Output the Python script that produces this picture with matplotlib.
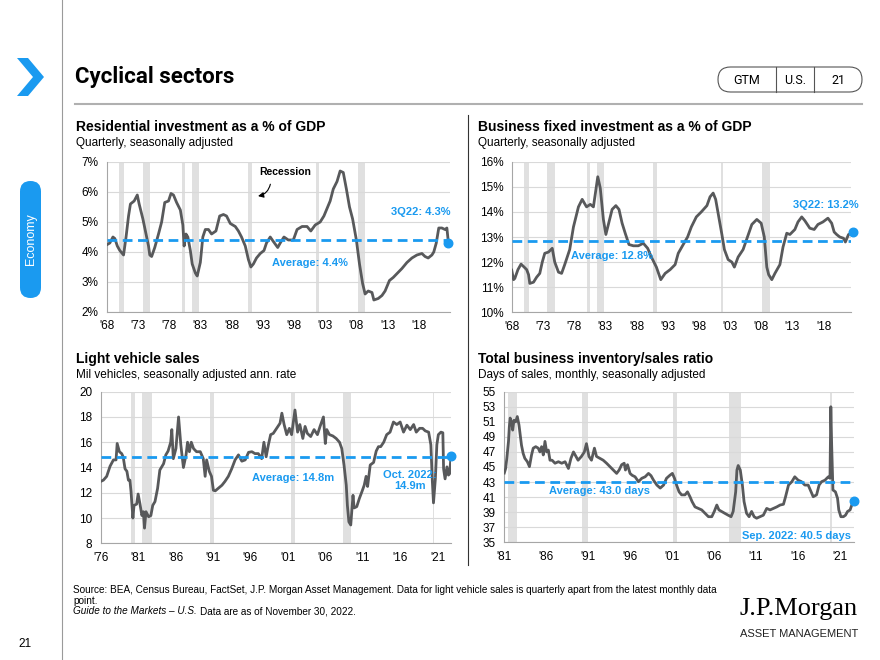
import matplotlib
matplotlib.use("Agg")
import matplotlib.pyplot as plt
from matplotlib.patches import FancyBboxPatch, Polygon

plt.rcParams['font.family'] = ['Liberation Sans', 'DejaVu Sans']

BLUE = '#1a9af0'
LINE = '#58595b'
REC = '#e0e0e0'
GRID = '#d9d9d9'
SPINE = '#a6a6a6'

# ---- Residential investment as a % of GDP (quarterly)
res_years = [1968.0, 1968.5, 1969.0, 1969.3, 1969.7, 1970.1, 1970.5, 1970.7, 1971.1, 1971.5,
             1971.8, 1972.4, 1972.9, 1973.2, 1973.8, 1974.3, 1974.7, 1974.9, 1975.2, 1975.7,
             1976.3, 1976.8, 1977.3, 1977.9, 1978.3, 1978.7, 1979.2, 1979.8, 1980.2, 1980.4,
             1980.7, 1981.0, 1981.4, 1981.7, 1982.2, 1982.5, 1983.0, 1983.4, 1983.8, 1984.3,
             1984.8, 1985.5, 1986.1, 1986.7, 1987.2, 1987.8, 1988.6, 1989.1, 1989.6, 1990.2,
             1990.7, 1991.1, 1991.5, 1992.0, 1992.6, 1993.2, 1993.6, 1994.2, 1994.7, 1995.4,
             1995.8, 1996.4, 1997.1, 1997.9, 1998.5, 1999.3, 2000.1, 2000.7, 2001.4, 2002.2,
             2002.8, 2003.3, 2003.8, 2004.3, 2004.9, 2005.4, 2005.9, 2006.4, 2006.9, 2007.4,
             2008.0, 2008.5, 2009.0, 2009.4, 2009.9, 2010.5, 2010.8, 2011.5, 2012.1, 2012.6,
             2013.3, 2013.9, 2014.6, 2015.3, 2016.1, 2016.9, 2017.7, 2018.5, 2019.0, 2019.5,
             2020.1, 2020.4, 2020.8, 2021.2, 2021.7, 2022.2, 2022.5, 2022.75]
res_vals = [4.24, 4.30, 4.50, 4.45, 4.20, 4.05, 3.95, 3.90, 4.50, 5.20,
            5.60, 5.70, 5.90, 5.60, 5.10, 4.60, 4.20, 3.90, 3.85, 4.15,
            4.60, 5.00, 5.65, 5.70, 5.95, 5.90, 5.65, 5.40, 4.90, 4.20,
            4.60, 4.50, 4.05, 3.60, 3.30, 3.20, 3.65, 4.50, 4.75, 4.75,
            4.60, 4.70, 5.20, 5.25, 5.20, 4.95, 4.85, 4.70, 4.50, 4.20,
            3.75, 3.50, 3.60, 3.80, 3.95, 4.05, 4.30, 4.50, 4.35, 4.15,
            4.30, 4.50, 4.40, 4.40, 4.75, 4.85, 4.85, 4.70, 4.90, 5.00,
            5.20, 5.45, 5.70, 6.10, 6.35, 6.70, 6.65, 6.10, 5.50, 5.10,
            4.40, 3.60, 2.95, 2.60, 2.70, 2.65, 2.40, 2.45, 2.55, 2.70,
            3.05, 3.15, 3.30, 3.45, 3.65, 3.80, 3.90, 3.95, 3.85, 3.80,
            3.90, 4.00, 4.30, 4.80, 4.80, 4.75, 4.80, 4.30]
res_avg = 4.4
res_rec = [(1970.0, 1970.7), (1973.8, 1974.95), (1980.1, 1980.55), (1981.7, 1982.75),
           (1990.65, 1991.25), (2001.55, 2002.0), (2008.3, 2009.45)]

# ---- Business fixed investment as a % of GDP (quarterly)
bfi_years = [1968.0, 1968.3, 1968.5, 1969.0, 1969.5, 1970.0, 1970.4, 1970.7, 1970.9, 1971.5,
             1972.0, 1972.5, 1972.9, 1973.3, 1973.9, 1974.5, 1974.9, 1975.5, 1976.0, 1976.5,
             1977.3, 1977.9, 1978.7, 1979.3, 1980.0, 1980.6, 1981.1, 1981.8, 1982.2, 1982.7,
             1983.1, 1983.5, 1984.1, 1984.7, 1985.2, 1985.7, 1986.2, 1986.8, 1987.5, 1988.3,
             1989.1, 1989.8, 1990.4, 1991.2, 1991.9, 1992.6, 1993.4, 1994.2, 1994.7, 1995.5,
             1996.2, 1996.8, 1997.6, 1998.4, 1999.3, 1999.8, 2000.3, 2000.7, 2001.2, 2001.7,
             2002.1, 2002.7, 2003.3, 2003.7, 2004.3, 2005.1, 2005.8, 2006.5, 2007.3, 2008.0,
             2008.5, 2008.9, 2009.2, 2009.7, 2010.2, 2011.0, 2011.5, 2012.1, 2012.6, 2013.4,
             2013.9, 2014.5, 2015.0, 2015.8, 2016.5, 2017.1, 2017.9, 2018.7, 2019.3, 2019.7,
             2020.1, 2020.6, 2021.2, 2021.5, 2022.0, 2022.4, 2022.75]
bfi_vals = [11.68, 11.30, 11.35, 11.70, 11.92, 11.80, 11.70, 11.50, 11.15, 11.20,
            11.40, 11.55, 12.00, 12.35, 12.40, 12.55, 12.00, 11.60, 11.55, 11.90,
            12.50, 13.40, 14.20, 14.50, 14.20, 14.30, 14.20, 15.40, 14.95, 13.70,
            13.10, 13.50, 14.10, 14.25, 14.10, 13.55, 13.15, 12.70, 12.65, 12.65,
            12.75, 12.55, 12.20, 11.80, 11.30, 11.55, 11.70, 11.90, 12.35, 12.70,
            13.00, 13.40, 13.80, 14.00, 14.25, 14.60, 14.75, 14.50, 13.80, 13.10,
            12.50, 12.10, 12.00, 11.80, 12.20, 12.50, 13.00, 13.50, 13.70, 13.55,
            13.00, 11.80, 11.50, 11.30, 11.55, 11.90, 12.60, 13.15, 13.10, 13.30,
            13.60, 13.80, 13.65, 13.35, 13.30, 13.50, 13.60, 13.75, 13.55, 13.20,
            13.10, 13.00, 12.95, 12.80, 13.10, 13.15, 13.20]
bfi_avg = 12.85
bfi_rec = [(1969.9, 1970.7), (1973.7, 1974.95), (1980.0, 1980.55), (1981.6, 1982.8),
           (1990.6, 1991.25), (2001.5, 2001.95), (2008.2, 2009.45)]

# ---- Light vehicle sales (mil, SAAR)
lvs_years = [1976.0, 1976.36, 1976.8, 1977.25, 1977.7, 1978.05, 1978.2, 1978.5, 1978.8, 1979.0,
             1979.25, 1979.5, 1979.7, 1979.9, 1980.05, 1980.3, 1980.45, 1980.8, 1981.0, 1981.25,
             1981.5, 1981.7, 1981.85, 1982.05, 1982.4, 1982.7, 1982.95, 1983.25, 1983.6, 1983.9,
             1984.4, 1984.7, 1985.0, 1985.35, 1985.5, 1985.7, 1986.05, 1986.4, 1986.7, 1987.05,
             1987.4, 1987.6, 1987.85, 1988.1, 1988.4, 1988.8, 1989.3, 1989.7, 1989.95, 1990.15,
             1990.5, 1990.8, 1991.05, 1991.3, 1991.7, 1992.2, 1992.6, 1993.05, 1993.5, 1993.95,
             1994.4, 1994.85, 1995.3, 1995.75, 1996.2, 1996.6, 1997.05, 1997.5, 1997.8, 1998.1,
             1998.4, 1998.7, 1999.05, 1999.5, 1999.95, 2000.2, 2000.5, 2000.85, 2001.2, 2001.5,
             2001.95, 2002.3, 2002.6, 2003.0, 2003.3, 2003.6, 2004.05, 2004.5, 2004.95, 2005.3,
             2005.75, 2006.0, 2006.2, 2006.55, 2007.0, 2007.45, 2007.9, 2008.2, 2008.5, 2008.8,
             2008.95, 2009.15, 2009.4, 2009.7, 2009.85, 2010.2, 2010.55, 2010.9, 2011.2, 2011.45,
             2011.65, 2012.0, 2012.45, 2012.8, 2013.1, 2013.4, 2013.8, 2014.2, 2014.65, 2015.1,
             2015.55, 2016.0, 2016.45, 2016.9, 2017.35, 2017.8, 2018.15, 2018.6, 2019.0, 2019.35,
             2019.8, 2020.1, 2020.3, 2020.45, 2020.7, 2020.9, 2021.1, 2021.45, 2021.7, 2021.8,
             2022.0, 2022.25, 2022.45, 2022.6, 2022.8]
lvs_vals = [12.9, 13.0, 13.3, 14.1, 14.6, 14.6, 15.9, 15.25, 15.1, 14.85,
            13.9, 13.7, 13.0, 13.0, 12.1, 10.0, 11.0, 11.1, 11.9, 11.1,
            10.2, 10.5, 9.2, 10.5, 10.1, 10.2, 11.0, 11.3, 12.35, 13.8,
            14.3, 15.0, 15.3, 16.0, 17.0, 14.7, 15.5, 18.0, 15.8, 14.0,
            15.0, 16.0, 15.25, 16.0, 15.5, 15.25, 15.25, 14.7, 13.3, 14.6,
            13.7, 13.3, 12.2, 12.15, 12.35, 12.6, 12.9, 13.3, 13.9, 14.6,
            15.0, 14.5, 14.6, 15.2, 15.25, 15.1, 15.1, 14.7, 16.0, 14.85,
            15.8, 16.6, 16.7, 17.1, 17.5, 18.3, 17.4, 16.6, 17.1, 16.6,
            18.55, 16.8, 17.4, 16.3, 17.25, 16.7, 16.45, 17.0, 16.6, 17.25,
            18.0, 15.9, 17.0, 16.6, 16.5, 16.3, 16.0, 15.5, 14.2, 12.6,
            11.0, 9.7, 9.45, 11.8, 10.8, 10.9, 11.55, 12.1, 12.6, 13.3,
            12.5, 14.2, 14.4, 15.3, 15.65, 15.65, 16.0, 16.6, 16.8, 17.6,
            17.4, 17.6, 16.8, 17.35, 17.0, 17.4, 16.8, 17.1, 17.1, 16.9,
            16.8, 15.8, 12.9, 11.2, 13.1, 15.8, 16.6, 16.8, 16.75, 13.9,
            13.1, 14.05, 13.4, 13.5, 14.9]
lvs_avg = 14.8
lvs_rec = [(1980.05, 1980.6), (1981.55, 1982.8), (1990.6, 1991.15), (2001.45, 2001.95),
           (2008.3, 2009.4), (2020.35, 2020.55)]

# ---- Total business inventory/sales ratio (days)
inv_years = [1981.0, 1981.16, 1981.3, 1981.5, 1981.6, 1981.7, 1981.9, 1982.0, 1982.15, 1982.35,
             1982.55, 1982.75, 1982.9, 1983.05, 1983.25, 1983.45, 1983.75, 1984.0, 1984.25, 1984.45,
             1984.75, 1985.05, 1985.25, 1985.45, 1985.65, 1985.85, 1986.05, 1986.25, 1986.45, 1986.7,
             1987.05, 1987.45, 1987.85, 1988.25, 1988.65, 1988.95, 1989.25, 1989.45, 1989.8, 1990.2,
             1990.55, 1990.8, 1991.1, 1991.4, 1991.75, 1992.0, 1992.4, 1992.8, 1993.2, 1993.6,
             1994.0, 1994.4, 1994.7, 1995.0, 1995.3, 1995.45, 1995.7, 1996.0, 1996.25, 1996.6,
             1997.0, 1997.4, 1997.8, 1998.2, 1998.5, 1998.8, 1999.2, 1999.6, 2000.0, 2000.35,
             2000.75, 2001.05, 2001.3, 2001.55, 2001.85, 2002.15, 2002.55, 2002.85, 2003.15, 2003.4,
             2003.75, 2004.15, 2004.55, 2004.95, 2005.35, 2005.75, 2006.05, 2006.35, 2006.6, 2006.9,
             2007.3, 2007.7, 2008.05, 2008.3, 2008.6, 2008.75, 2008.9, 2009.15, 2009.4, 2009.6,
             2009.9, 2010.2, 2010.5, 2010.8, 2011.1, 2011.5, 2011.9, 2012.3, 2012.7, 2013.1,
             2013.5, 2013.9, 2014.3, 2014.55, 2014.9, 2015.3, 2015.65, 2016.05, 2016.45, 2016.85,
             2017.25, 2017.6, 2017.85, 2018.25, 2018.55, 2018.85, 2019.25, 2019.65, 2019.85, 2019.95,
             2020.05, 2020.2, 2020.5, 2020.75, 2020.9, 2021.15, 2021.45, 2021.7, 2021.95, 2022.25,
             2022.45, 2022.75]
inv_vals = [44.2, 44.8, 46.15, 48.4, 50.35, 51.5, 50.8, 49.9, 51.2, 51.0,
            51.7, 50.6, 49.25, 47.9, 46.8, 46.15, 45.7, 45.05, 46.6, 47.5,
            47.7, 47.5, 47.0, 47.7, 46.6, 48.4, 47.0, 47.25, 45.9, 45.9,
            45.5, 45.7, 45.5, 45.7, 44.8, 46.15, 47.0, 46.6, 45.9, 46.4,
            47.0, 48.1, 46.4, 45.9, 47.5, 46.4, 46.15, 45.9, 45.5, 45.05,
            44.6, 44.15, 44.6, 45.3, 45.5, 44.6, 45.3, 44.15, 43.9, 43.7,
            43.05, 43.5, 43.7, 44.15, 43.85, 43.25, 42.6, 42.2, 42.6, 43.5,
            43.9, 44.15, 43.5, 42.6, 41.7, 41.3, 41.3, 41.7, 41.05, 40.4,
            39.7, 39.5, 39.3, 38.85, 38.4, 38.4, 39.1, 39.95, 39.3, 39.1,
            38.85, 38.6, 38.4, 39.1, 41.7, 44.6, 45.2, 44.6, 42.6, 40.4,
            38.85, 38.4, 39.1, 38.4, 38.2, 38.4, 38.6, 39.5, 39.3, 39.5,
            39.7, 39.95, 40.05, 41.05, 42.6, 43.05, 43.7, 43.25, 43.05, 42.6,
            42.6, 41.7, 41.05, 41.3, 42.6, 43.05, 43.25, 43.7, 43.5, 53.0,
            47.9, 41.95, 41.7, 40.85, 39.3, 38.4, 38.4, 38.6, 39.1, 39.3,
            39.95, 40.5]
inv_avg = 43.0
inv_rec = [(1981.4, 1982.5), (1990.3, 1990.95), (2001.1, 2001.6), (2007.8, 2009.25),
           (2019.9, 2020.1)]

top_ticks = list(range(1968, 2019, 5))
lvs_ticks = list(range(1976, 2022, 5))
inv_ticks = list(range(1981, 2022, 5))


def yr_label(y):
    return "'" + str(y)[2:]


fig = plt.figure(figsize=(8.8, 6.6), dpi=100)

# overlay in pixel coordinates for page furniture
bg = fig.add_axes([0, 0, 1, 1])
bg.set_xlim(0, 880)
bg.set_ylim(660, 0)
bg.axis('off')


def rect(x0, y0, x1, y1):
    return [x0 / 880, 1 - y1 / 660, (x1 - x0) / 880, (y1 - y0) / 660]


def panel(r, years, vals, rec, avg, ylim, yticks, ylabels, xticks, xlim):
    ax = fig.add_axes(r)
    for a, b in rec:
        ax.axvspan(a, b, color=REC, lw=0, zorder=0)
    ax.plot(years, vals, color=LINE, lw=2, zorder=3, solid_joinstyle='round')
    ax.axhline(avg, color=BLUE, lw=2, dashes=(3.5, 2), zorder=4)
    ax.scatter([years[-1]], [vals[-1]], s=38, color=BLUE, zorder=5, clip_on=False)
    ax.set_xlim(xlim)
    ax.set_ylim(ylim)
    ax.set_yticks(yticks)
    ax.set_yticklabels(ylabels)
    ax.set_xticks(xticks)
    ax.set_xticklabels([yr_label(t) for t in xticks])
    ax.grid(axis='y', color=GRID, lw=0.8)
    ax.set_axisbelow(True)
    for s in ['top', 'right']:
        ax.spines[s].set_visible(False)
    for s in ['left', 'bottom']:
        ax.spines[s].set_color(SPINE)
        ax.spines[s].set_linewidth(0.8)
    ax.tick_params(length=0, labelsize=8.5, colors='#000000', pad=6)
    ax.patch.set_alpha(0)
    return ax


ax1 = panel(rect(106.7, 162, 450, 312), res_years, res_vals, res_rec, res_avg,
            (2, 7), [2, 3, 4, 5, 6, 7], ['2%', '3%', '4%', '5%', '6%', '7%'],
            top_ticks, (1968, 2023))
ax1.text(2023, 5.33, '3Q22: 4.3%', color=BLUE, fontsize=8, fontweight='bold',
         ha='right', va='center')
ax1.text(2000.5, 3.63, 'Average: 4.4%', color=BLUE, fontsize=8, fontweight='bold',
         ha='center', va='center')
ax1.annotate('', xy=(1991.8, 5.85), xytext=(1994.3, 6.35),
             arrowprops=dict(arrowstyle='-|>', color='black', lw=0.8,
                             connectionstyle='arc3,rad=-0.4', mutation_scale=8))
ax1.text(1996.6, 6.68, 'Recession', fontsize=7.5, fontweight='bold',
         ha='center', va='center')

ax2 = panel(rect(511.7, 161.7, 851, 312.3), bfi_years, bfi_vals, bfi_rec, bfi_avg,
            (10, 16), list(range(10, 17)), ['%d%%' % v for v in range(10, 17)],
            top_ticks, (1968, 2022.4))
ax2.text(2023.6, 14.27, '3Q22: 13.2%', color=BLUE, fontsize=8, fontweight='bold',
         ha='right', va='center')
ax2.text(1984.1, 12.25, 'Average: 12.8%', color=BLUE, fontsize=8, fontweight='bold',
         ha='center', va='center')

ax3 = panel(rect(100.7, 391.7, 450.7, 543.3), lvs_years, lvs_vals, lvs_rec, lvs_avg,
            (8, 20), list(range(8, 21, 2)), [str(v) for v in range(8, 21, 2)],
            lvs_ticks, (1976, 2022.75))
ax3.text(2001.7, 13.2, 'Average: 14.8m', color=BLUE, fontsize=8, fontweight='bold',
         ha='center', va='center')
ax3.text(2017.3, 13.0, 'Oct. 2022:\n14.9m', color=BLUE, fontsize=8, fontweight='bold',
         ha='center', va='center', multialignment='center', linespacing=1.1)

ax4 = panel(rect(504.3, 391.7, 854.3, 542.3), inv_years, inv_vals, inv_rec, inv_avg,
            (35, 55), list(range(35, 56, 2)), [str(v) for v in range(35, 56, 2)],
            inv_ticks, (1981, 2022.75))
ax4.text(1992.4, 41.85, 'Average: 43.0 days', color=BLUE, fontsize=8, fontweight='bold',
         ha='center', va='center')
ax4.text(2022.3, 35.85, 'Sep. 2022: 40.5 days', color=BLUE, fontsize=8, fontweight='bold',
         ha='right', va='center')

# panel titles
titles = [(75.5, 127, 'Residential investment as a % of GDP', 'Quarterly, seasonally adjusted'),
          (478, 127, 'Business fixed investment as a % of GDP', 'Quarterly, seasonally adjusted'),
          (75.5, 359, 'Light vehicle sales', 'Mil vehicles, seasonally adjusted ann. rate'),
          (478, 359, 'Total business inventory/sales ratio', 'Days of sales, monthly, seasonally adjusted')]
for x, y, t, s in titles:
    bg.text(x, y, t, fontsize=10, fontweight='bold', ha='left', va='center')
    bg.text(x, y + 16, s, fontsize=8.5, ha='left', va='center')

# page furniture
bg.plot([62, 62], [0, 660], color='#9a9a9a', lw=0.8)
bg.plot([467.5, 467.5], [115, 565], color='#333333', lw=0.8)
bg.plot([75, 862], [104, 104], color='#b0b0b0', lw=1.5)
bg.add_patch(Polygon([(17, 58), (28, 58), (44, 77), (28, 96), (17, 96), (33, 77)],
                     closed=True, color=BLUE, lw=0))
bg.text(75, 77, 'Cyclical sectors', fontsize=16, fontweight='bold', ha='left', va='center',
        family=['Roboto', 'DejaVu Sans'])
bg.add_patch(FancyBboxPatch((718, 67), 144, 25, boxstyle='round,pad=0,rounding_size=12.5',
                            fc='white', ec='#555555', lw=0.8))
bg.plot([776, 776], [67, 92], color='#555555', lw=0.8)
bg.plot([814, 814], [67, 92], color='#555555', lw=0.8)
for x, t in [(747, 'GTM'), (795, 'U.S.'), (838, '21')]:
    bg.text(x, 80, t, fontsize=9, ha='center', va='center', family=['Roboto', 'DejaVu Sans'])

bg.add_patch(FancyBboxPatch((20, 181), 21, 117, boxstyle='round,pad=0,rounding_size=10.5',
                            fc=BLUE, ec='none'))
bg.text(30.5, 239.5, 'Economy', color='white', fontsize=9, rotation=90,
        ha='center', va='center')

src1 = ('Source: BEA, Census Bureau, FactSet, J.P. Morgan Asset Management. Data for light vehicle '
        'sales is quarterly apart from the latest monthly data')
bg.text(73, 590, src1, fontsize=7.2, ha='left', va='center')
bg.text(73, 600.5, 'point.', fontsize=7.2, ha='left', va='center')
it = bg.text(73, 611, 'Guide to the Markets \u2013 U.S.', fontsize=7.2, style='italic',
             ha='left', va='center')
fig.canvas.draw()
bb = it.get_window_extent()
bg.text(bb.x1 + 3, 611, 'Data are as of November 30, 2022.', fontsize=7.2,
        ha='left', va='center')
bg.text(18, 644, '21', fontsize=8.5, ha='left', va='center')
bg.text(858, 609, 'J.P.Morgan', fontsize=19, ha='right', va='center',
        family=['Liberation Serif', 'DejaVu Serif'])
bg.text(858, 634, 'ASSET MANAGEMENT', fontsize=8, ha='right', va='center', color='#222222')

fig.savefig('out.png', dpi=100)
